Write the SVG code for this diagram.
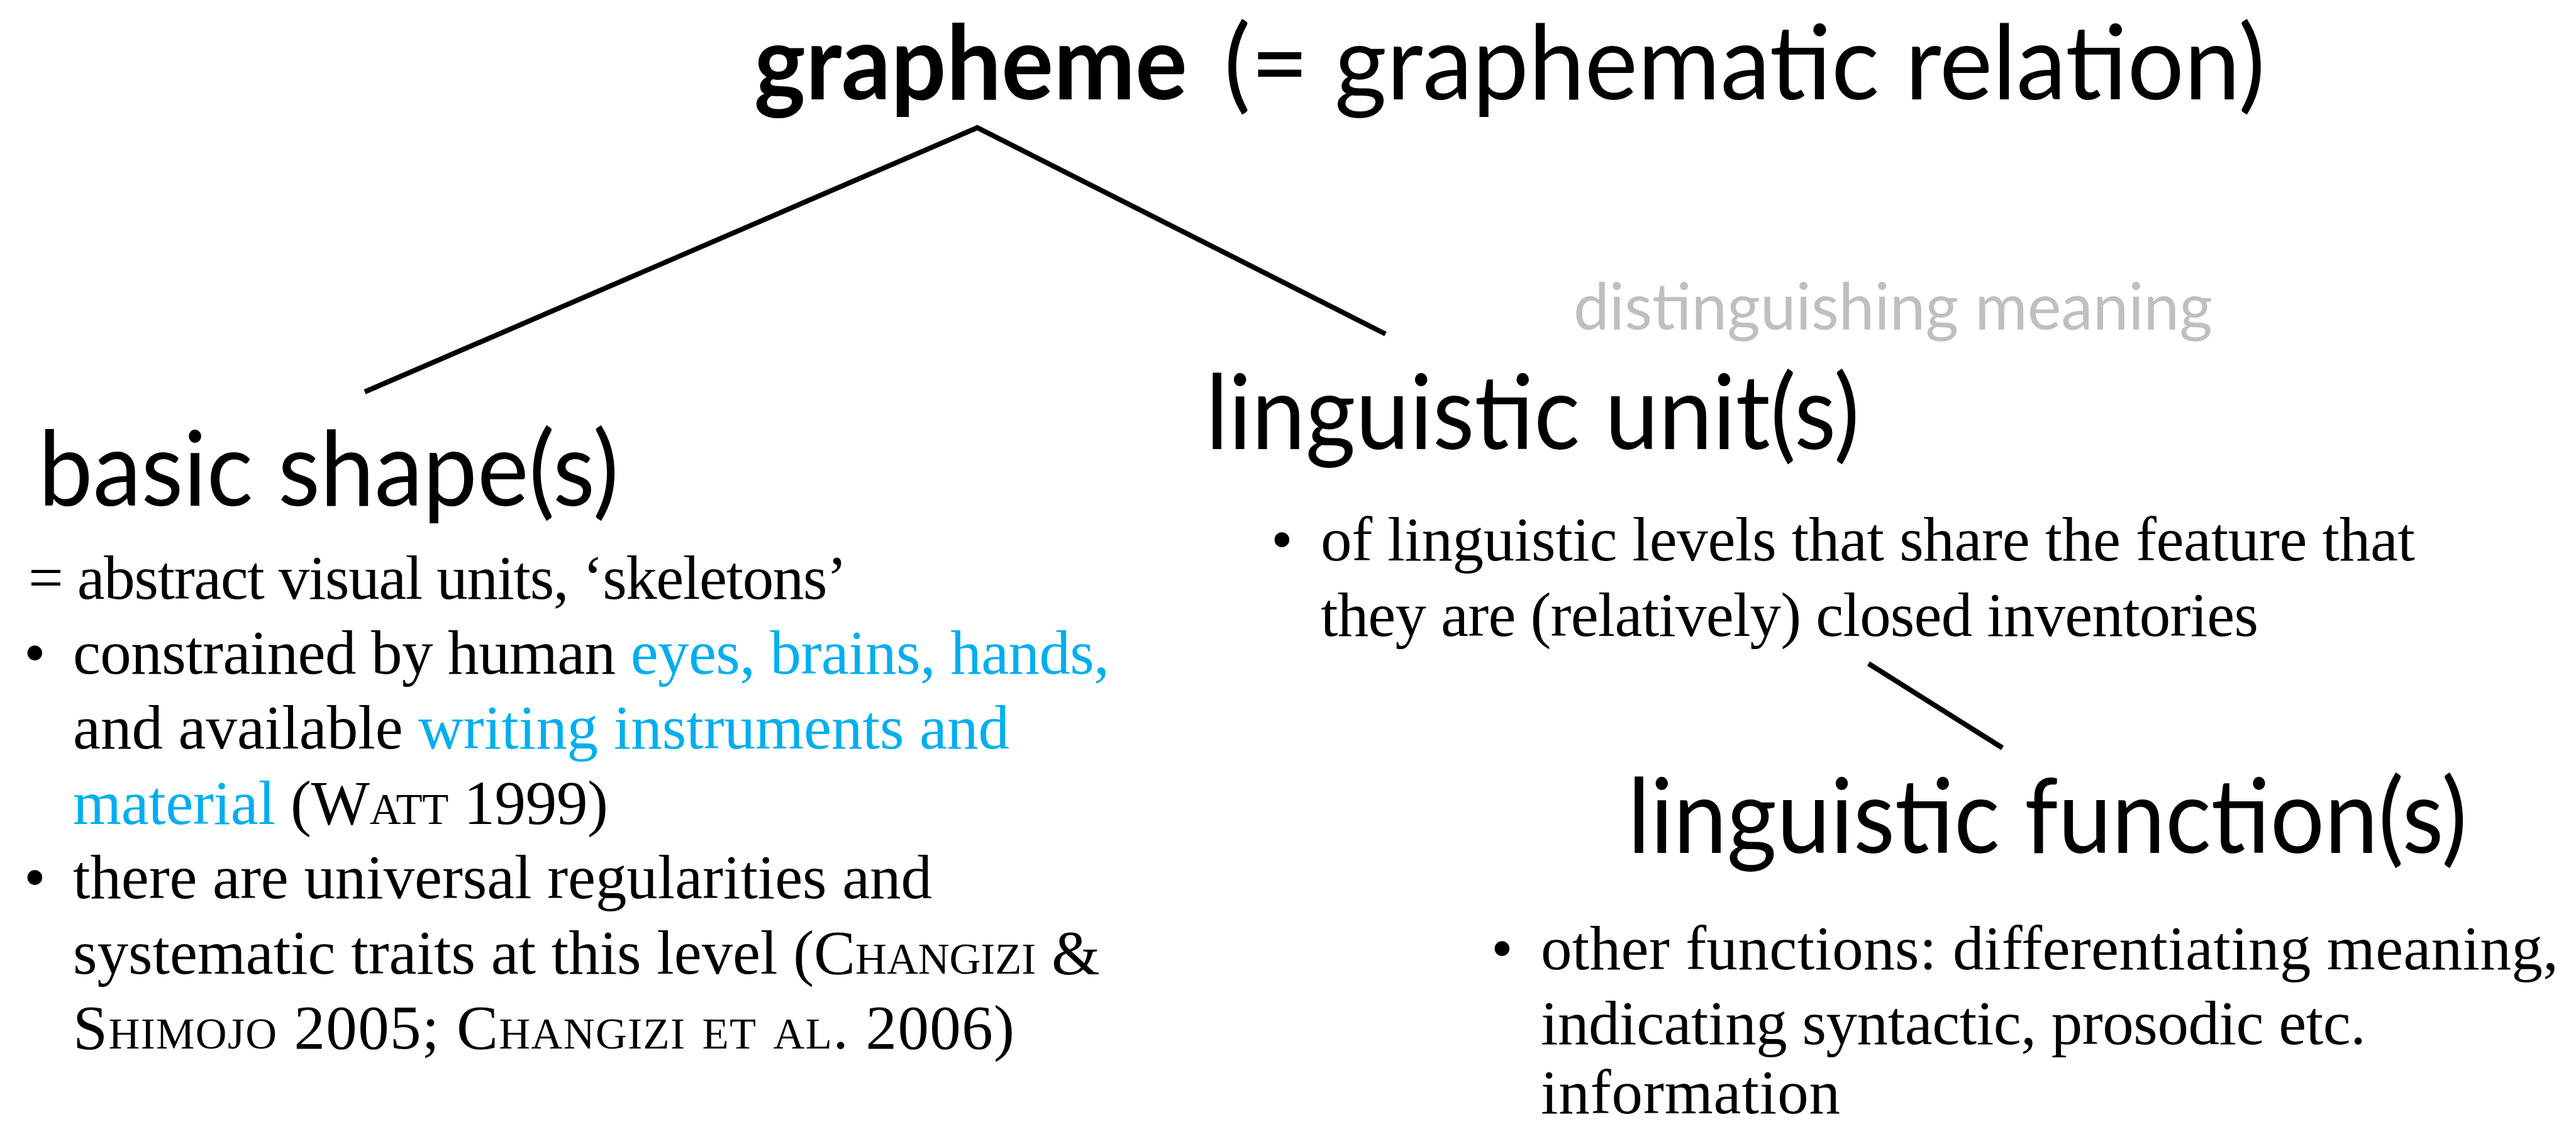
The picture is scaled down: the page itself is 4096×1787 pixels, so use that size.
<svg xmlns="http://www.w3.org/2000/svg" width="4096" height="1787" viewBox="0 0 4096 1787">
<style>
.h{font-family:Lato,"Open Sans","Noto Sans",sans-serif;font-size:164px;fill:#000}
.hb{font-weight:bold}
.g{font-family:Lato,"Open Sans","Noto Sans",sans-serif;font-size:102px;fill:#bfbfbf}
.b{font-family:"Liberation Serif","Times New Roman",serif;font-size:99px;fill:#000}
.blue{fill:#00aeef}
.sc{font-variant:small-caps}
.conn{stroke:#000;stroke-width:8;fill:none;stroke-linecap:butt;stroke-linejoin:miter}
</style>
<rect width="4096" height="1787" fill="#fff"/>
<g id="connectors">
<polyline class="conn" points="580,623 1554,203 2203,531"/>
<line class="conn" x1="2971" y1="1055" x2="3184" y2="1189"/>
</g>
<g id="node-grapheme">
<text class="h hb" x="1199" y="158" textLength="689" lengthAdjust="spacingAndGlyphs">grapheme</text>
<text class="h" x="1946" y="158" textLength="1656" lengthAdjust="spacingAndGlyphs">(= graphematic relation)</text>
</g>
<g id="node-basic-shape">
<text class="h" x="61" y="804" textLength="923" lengthAdjust="spacingAndGlyphs">basic shape(s)</text>
<text class="b" x="45" y="952" textLength="1302">= abstract visual units, ‘skeletons’</text>
<text class="b" x="38" y="1071">•</text>
<text class="b" x="116" y="1071" textLength="1648">constrained by human <tspan class="blue">eyes, brains, hands,</tspan></text>
<text class="b" x="116" y="1190" textLength="1489">and available <tspan class="blue">writing instruments and</tspan></text>
<text class="b" x="116" y="1310" textLength="851"><tspan class="blue">material</tspan> (<tspan class="sc">Watt</tspan> 1999)</text>
<text class="b" x="38" y="1428">•</text>
<text class="b" x="116" y="1428" textLength="1366">there are universal regularities and</text>
<text class="b" x="116" y="1548" textLength="1633">systematic traits at this level (<tspan class="sc">Changizi</tspan> &amp;</text>
<text class="b" x="116" y="1667" textLength="1497"><tspan class="sc">Shimojo</tspan> 2005; <tspan class="sc">Changizi et al.</tspan> 2006)</text>
</g>
<g id="label-distinguishing">
<text class="g" x="2502" y="524" textLength="1016" lengthAdjust="spacingAndGlyphs">distinguishing meaning</text>
</g>
<g id="node-linguistic-unit">
<text class="h" x="1917" y="714" textLength="1040" lengthAdjust="spacingAndGlyphs">linguistic unit(s)</text>
<text class="b" x="2021" y="891">•</text>
<text class="b" x="2100" y="891" textLength="1740">of linguistic levels that share the feature that</text>
<text class="b" x="2100" y="1011" textLength="1491">they are (relatively) closed inventories</text>
</g>
<g id="node-linguistic-function">
<text class="h" x="2588" y="1356" textLength="1335" lengthAdjust="spacingAndGlyphs">linguistic function(s)</text>
<text class="b" x="2371" y="1541">•</text>
<text class="b" x="2450" y="1541" textLength="1618">other functions: differentiating meaning,</text>
<text class="b" x="2450" y="1660" textLength="1312">indicating syntactic, prosodic etc.</text>
<text class="b" x="2450" y="1770" textLength="476">information</text>
</g>
</svg>
